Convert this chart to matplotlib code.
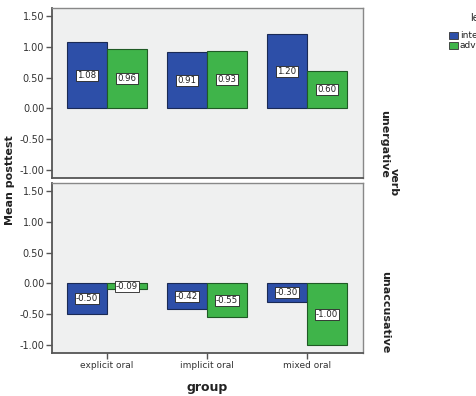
import matplotlib
matplotlib.use("Agg")
import matplotlib.pyplot as plt
import numpy as np

groups = ["explicit oral", "implicit oral", "mixed oral"]
levels = ["intermediate", "advanced"]
verbs = ["unergative", "unaccusative"]
# values[verb][level] per group
unerg_inter = [1.08, 0.91, 1.20]
unerg_adv = [0.96, 0.93, 0.60]
unacc_inter = [-0.50, -0.42, -0.30]
unacc_adv = [-0.09, -0.55, -1.00]
yticks = [-1.00, -0.50, 0.00, 0.50, 1.00, 1.50]

blue = "#2D4FA8"
green = "#3FB44A"
panel_bg = "#EFF0F0"

fig = plt.figure(figsize=(4.76, 3.96), dpi=100)
fig.patch.set_facecolor("white")

L = 52 / 476
W = (363 - 52) / 476
H = 170 / 396
ax1 = fig.add_axes([L, 1 - 178 / 396, W, H])
ax2 = fig.add_axes([L, 1 - 353 / 396, W, H])

x = np.arange(len(groups))
bw = 0.4

def draw(ax, inter, adv, show_x):
    ax.set_facecolor(panel_bg)
    b1 = ax.bar(x - bw / 2, inter, bw, color=blue, edgecolor="#1a2a55", linewidth=0.8, zorder=2)
    b2 = ax.bar(x + bw / 2, adv, bw, color=green, edgecolor="#1f5a25", linewidth=0.8, zorder=2)
    for bars, vals in ((b1, inter), (b2, adv)):
        for rect, v in zip(bars, vals):
            ax.text(rect.get_x() + rect.get_width() / 2, v / 2, f"{v:.2f}",
                    ha="center", va="center", fontsize=6.2, color="#222222", zorder=3,
                    bbox=dict(boxstyle="square,pad=0.12", facecolor="white",
                              edgecolor="#222222", linewidth=0.6))
    ax.set_xlim(-0.55, 2.56)
    ax.set_ylim(-1.13, 1.63)
    ax.set_yticks(yticks)
    ax.set_yticklabels([f"{t:.2f}" for t in yticks], fontsize=7, color="#333333")
    ax.tick_params(axis="y", direction="out", length=4, width=1, color="#555555", pad=1.5)
    for s in ("top", "right"):
        ax.spines[s].set_color("#888888")
        ax.spines[s].set_linewidth(1)
    for s in ("left", "bottom"):
        ax.spines[s].set_color("#555555")
        ax.spines[s].set_linewidth(1.3)
    ax.set_xticks(x)
    if show_x:
        ax.set_xticklabels(groups, fontsize=6.5, color="#333333")
        ax.tick_params(axis="x", direction="out", length=4, width=1, color="#555555", pad=2)
    else:
        ax.set_xticklabels([])
        ax.tick_params(axis="x", length=0)

draw(ax1, unerg_inter, unerg_adv, False)
draw(ax2, unacc_inter, unacc_adv, True)

fig.text(207 / 476, 1 - 387 / 396, "group", ha="center", va="center",
         fontsize=9, fontweight="bold", color="#222222")
fig.text(10 / 476, 1 - 180 / 396, "Mean posttest", rotation=90, ha="center", va="center",
         fontsize=8, fontweight="bold", color="#222222")

fig.text(384 / 476, 1 - 144 / 396, verbs[0], rotation=270, ha="center", va="center",
         fontsize=8, fontweight="bold", color="#222222")
fig.text(394 / 476, 1 - 182 / 396, "verb", rotation=270, ha="center", va="center",
         fontsize=8, fontweight="bold", color="#222222")
fig.text(385 / 476, 1 - 312 / 396, verbs[1], rotation=270, ha="center", va="center",
         fontsize=8, fontweight="bold", color="#222222")

# legend (cut off by figure edge as in reference)
fig.text(470 / 476, 1 - 18 / 396, "level", ha="left", va="center", fontsize=7, color="#222222")
for i, (lab, col) in enumerate(zip(levels, [blue, green])):
    yc = 1 - (35 + i * 10) / 396
    fig.patches.append(matplotlib.patches.Rectangle((449 / 476, yc - 3.5 / 396), 9 / 476, 7 / 396,
                                                    transform=fig.transFigure, facecolor=col,
                                                    edgecolor="#333333", linewidth=0.6))
    fig.text(460 / 476, yc, lab, ha="left", va="center", fontsize=6.5, color="#222222")

fig.savefig("out.png", dpi=100, facecolor="white")
